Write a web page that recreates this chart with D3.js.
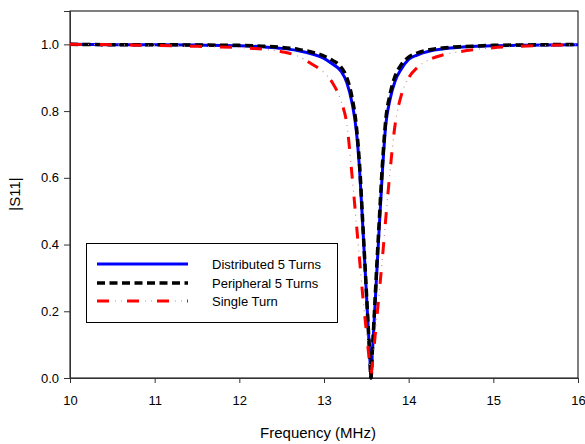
<!DOCTYPE html>
<html>
<head>
<meta charset="utf-8">
<script src="https://cdn.jsdelivr.net/npm/d3@7"></script>
<style>
  body { margin: 0; background: #fff; }
  text { font-family: Arial, "Liberation Sans", sans-serif; fill: #000; }
</style>
</head>
<body>
<svg id="svg" width="585" height="444"></svg>
<script>
// frequency points (MHz), denser around the resonance
var freq = [10, 10.5, 11, 11.5, 12, 12.3, 12.5, 12.7, 12.85, 13.0, 13.1, 13.2, 13.27, 13.33, 13.38, 13.42, 13.46, 13.49, 13.52, 13.54,
            13.555,
            13.57, 13.59, 13.62, 13.65, 13.69, 13.73, 13.78, 13.84, 13.91, 14.0, 14.1, 14.25, 14.4, 14.6, 14.8, 15.0, 15.3, 15.6, 16.0];

var distributed = [1.0, 0.999, 0.999, 0.998, 0.996, 0.992, 0.988, 0.981, 0.972, 0.958, 0.941, 0.920, 0.885, 0.826, 0.745, 0.625, 0.445, 0.305, 0.16, 0.07,
                   0.0,
                   0.07, 0.16, 0.30, 0.44, 0.62, 0.76, 0.835, 0.89, 0.925, 0.955, 0.968, 0.98, 0.986, 0.991, 0.994, 0.996, 0.997, 0.998, 0.999];

var peripheral = [1.0, 0.999, 0.999, 0.998, 0.997, 0.994, 0.991, 0.985, 0.977, 0.965, 0.952, 0.932, 0.900, 0.842, 0.760, 0.640, 0.455, 0.31, 0.165, 0.07,
                  0.0,
                  0.075, 0.17, 0.32, 0.46, 0.64, 0.775, 0.85, 0.905, 0.938, 0.962, 0.974, 0.984, 0.989, 0.993, 0.995, 0.997, 0.998, 0.999, 1.0];

var single = [1.0, 0.999, 0.997, 0.994, 0.990, 0.985, 0.978, 0.964, 0.942, 0.915, 0.885, 0.83, 0.76, 0.61, 0.47, 0.355, 0.24, 0.165, 0.09, 0.04,
              0.01,
              0.04, 0.09, 0.17, 0.25, 0.36, 0.48, 0.62, 0.76, 0.845, 0.90, 0.93, 0.955, 0.968, 0.978, 0.985, 0.99, 0.994, 0.997, 0.999];

var seriesNames = ["Distributed 5 Turns", "Peripheral 5 Turns", "Single Turn"];
var xTicks = [10, 11, 12, 13, 14, 15, 16];
var yTicks = [0.0, 0.2, 0.4, 0.6, 0.8, 1.0];

var svg = d3.select("#svg");
var padL = 70, padR = 578, padT = 11, padB = 378;

var x = d3.scaleLinear().domain([10, 16]).range([padL, padR]);
var y = d3.scaleLinear().domain([0, 1.1]).range([padB, padT]);

// frame
svg.append("rect")
  .attr("x", padL).attr("y", padT)
  .attr("width", padR - padL).attr("height", padB - padT)
  .attr("fill", "none").attr("stroke", "#000").attr("stroke-width", 1);

// axes
var xAxis = svg.append("g")
  .attr("transform", "translate(0," + padB + ")")
  .call(d3.axisBottom(x).tickValues(xTicks).tickSize(5).tickPadding(13).tickFormat(d3.format("d")));
var yAxis = svg.append("g")
  .attr("transform", "translate(" + padL + ",0)")
  .call(d3.axisLeft(y).tickValues(yTicks).tickSize(6).tickPadding(5).tickFormat(d3.format(".1f")));

[xAxis, yAxis].forEach(function(g){
  g.select(".domain").attr("stroke", "#333");
  g.selectAll(".tick line").attr("stroke", "#333");
  g.selectAll(".tick text").attr("font-size", "13px").attr("font-family", "Arial, 'Liberation Sans', sans-serif").attr("fill", "#000");
});

// axis titles
svg.append("text")
  .attr("x", (padL + padR) / 2 - 6).attr("y", 438)
  .attr("text-anchor", "middle").attr("font-size", "15px")
  .text("Frequency (MHz)");
svg.append("text")
  .attr("transform", "translate(20," + 194 + ") rotate(-90)")
  .attr("text-anchor", "middle").attr("font-size", "15px")
  .text("|S11|");

var line = d3.line()
  .x(function(d) { return x(d[0]); })
  .y(function(d) { return y(d[1]); })
  .curve(d3.curveMonotoneX);

function pts(vals) { return freq.map(function(f, i) { return [f, vals[i]]; }); }

// distributed: solid blue
svg.append("path").datum(pts(distributed)).attr("d", line)
  .attr("fill", "none").attr("stroke", "#0000ff").attr("stroke-width", 3);
// peripheral: black dashes
svg.append("path").datum(pts(peripheral)).attr("d", line)
  .attr("fill", "none").attr("stroke", "#000").attr("stroke-width", 3.5)
  .attr("stroke-dasharray", "8,4.5");
// single: red dash with dots
svg.append("path").datum(pts(single)).attr("d", line)
  .attr("fill", "none").attr("stroke", "#c89090").attr("stroke-width", 1.2)
  .attr("stroke-dasharray", "0,18,1,5,1,5");
svg.append("path").datum(pts(single)).attr("d", line)
  .attr("fill", "none").attr("stroke", "#ff0000").attr("stroke-width", 3)
  .attr("stroke-dasharray", "12,18");

// legend
var lg = svg.append("g");
lg.append("rect").attr("x", 86.5).attr("y", 243.5).attr("width", 251).attr("height", 79)
  .attr("fill", "#fff").attr("stroke", "#000").attr("stroke-width", 1);
var ly = [264, 283, 301];
lg.append("line").attr("x1", 97).attr("x2", 188).attr("y1", ly[0]).attr("y2", ly[0])
  .attr("stroke", "#0000ff").attr("stroke-width", 3);
lg.append("line").attr("x1", 97).attr("x2", 188).attr("y1", ly[1]).attr("y2", ly[1])
  .attr("stroke", "#000").attr("stroke-width", 3.5).attr("stroke-dasharray", "8,4.5");
lg.append("line").attr("x1", 97).attr("x2", 188).attr("y1", ly[2]).attr("y2", ly[2])
  .attr("stroke", "#c89090").attr("stroke-width", 1.2).attr("stroke-dasharray", "0,18,1,5,1,5");
lg.append("line").attr("x1", 97).attr("x2", 188).attr("y1", ly[2]).attr("y2", ly[2])
  .attr("stroke", "#ff0000").attr("stroke-width", 3).attr("stroke-dasharray", "12,18");
lg.selectAll("text.lbl").data(seriesNames).enter().append("text")
  .attr("class", "lbl")
  .attr("x", 212).attr("y", function(d, i) { return ly[i] + 5; })
  .attr("font-size", "13px")
  .text(function(d) { return d; });
</script>
</body>
</html>
